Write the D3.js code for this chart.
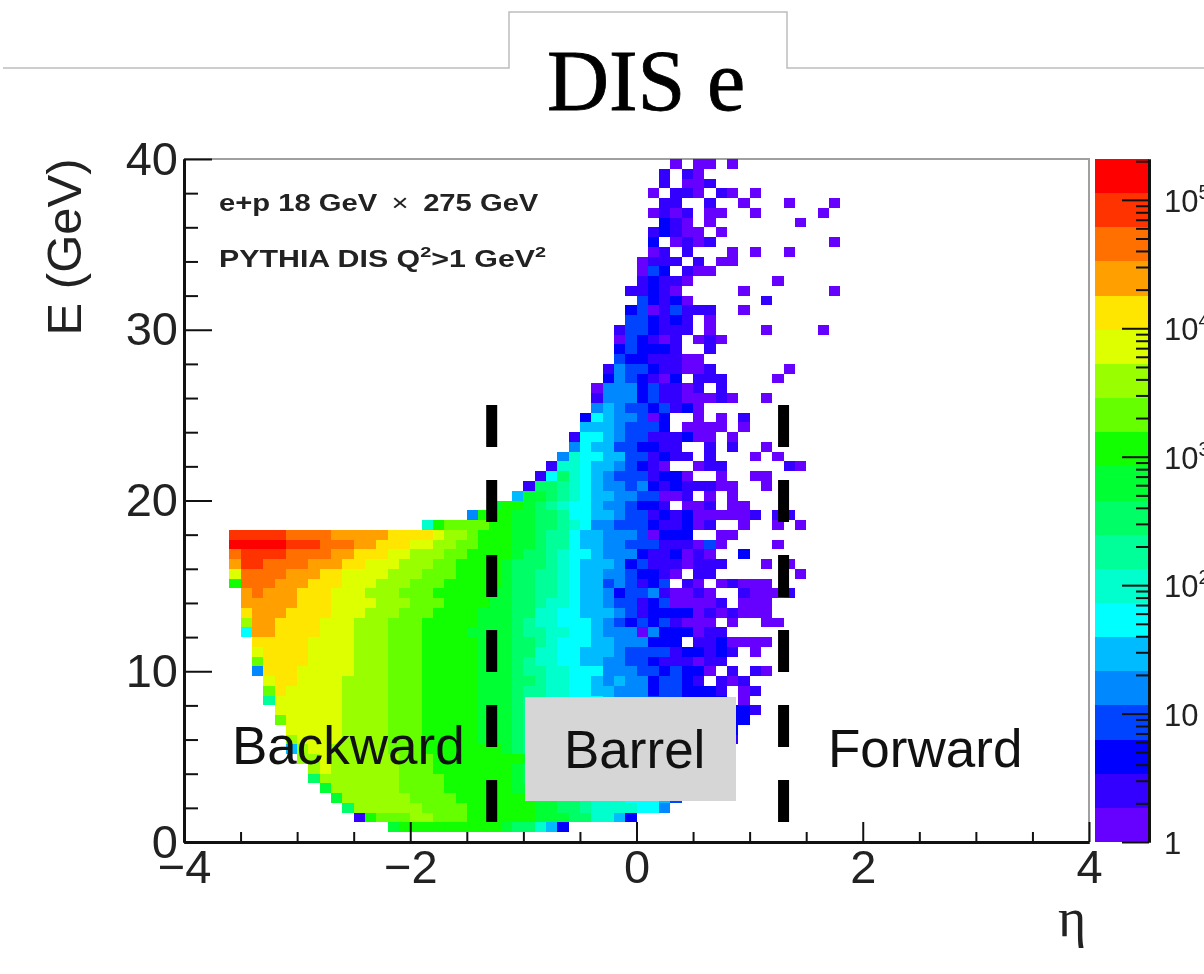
<!DOCTYPE html>
<html>
<head>
<meta charset="utf-8">
<title>DIS e</title>
<script src="https://cdn.jsdelivr.net/npm/d3@7"></script>
<style>
  html, body { margin: 0; padding: 0; background: #fff; overflow: hidden; }
  svg { display: block; font-family: "Liberation Sans", Arial, sans-serif; filter: blur(0.5px); }
</style>
</head>
<body>
<div id="chart"></div>
<script>
// Colour band of every filled bin.
// binRows goes from the top row (E = 39.4) down to the second row (E = 0.6).
// binStart is the eta column (0 = -4.0, 1 = -3.9 ...) of the first character in the row.
// One character per bin: 0-9 then a-j are the 20 bands of the colour bar, "." is empty.
var binStart = [
    43, 42, 42, 41, 42, 41, 42, 41, 41, 41, 40, 40, 40, 39, 40, 39, 39, 38,
    38, 38, 38, 37, 37, 36, 36, 36, 35, 35, 34, 34, 33, 32, 31, 30, 29, 27,
    25, 21, 4, 4, 4, 4, 4, 4, 5, 5, 5, 5, 5, 6, 6, 6, 6, 7, 7, 7,
    8, 8, 9, 9, 9, 10, 11, 11, 12, 13, 14, 15, 18
];
var binRows = [
    "0.00.0",
    "1.10",
    "1.001",
    "0.110.10.0",
    "11..1..0...0...0",
    "0101.00..0.....0",
    "210.0.......0",
    "12100.0",
    "2.0101..........0",
    "01.1...0.0..0",
    "0111.1.00",
    "032.100",
    "12110.......0",
    "11210.....0.......0",
    "32120......1",
    "23013111..0",
    "332121.0",
    "1332111.0....0....0",
    "032101.010",
    "232221..1",
    "32211100",
    "1433211001......0",
    "2432102.111....0",
    "0444231101.1",
    "1444231100010..0",
    "4543323120",
    "26544302..0.0.1",
    "55543332.0000.0",
    "1665433111200.0",
    "4655332211..1.1..0",
    "476655331211.1...0.0",
    "17765543210..011.....10",
    "16976543331220..0..00",
    "1998765443421211100..0",
    "5aa9876554433001.0.0",
    "abba987665443221.001.00",
    "4bbbaa99866554331212000001.11",
    "7bccccbbaa9987644333211201..0..0.0",
    "iiiiihhhhgggggffffeddcbbbaa98865544430222..00",
    "jjjjjiiihhhggfffeeddccbbbaa98865544333111030....0",
    "hiiiihhhhggfffeedddccbbbba99876654442112010..2",
    "giihhhhgggffeeedddccbbbba9998765554231110111...0.0",
    "ehhhhgggffeeeedddcccbbbba998876554432210.11.......0",
    "bhhhgggfffeeedddcccbbbbba99887655343123.10.01000",
    "ghgggfffeeedddcccbbbbbaa998876554233410010..10001",
    "gggggfffeeeedddcccbbbbaa9987765543312300001.000",
    "fgggffffeeedddcccbbbbaaa99776655543122220101000",
    "dggffffeeedddcccbbbbbaaa987766654323231000.0..00",
    "6ggffffeeedddcccbbbbaaaa9887766544404222011",
    "fffffeeeedddcccbbbbbaaa998766655444222.1120000",
    "effffeeeedddcccbbbbbaaa99776655543333122121.0",
    "cffffeeeedddcccbbbbbaaa9877665544332111011",
    "4fffeeeeedddcccbbbbbaaa988776664443323220.1.10",
    "effeeeeddddcccbbbbbaaa99877665454423321.101",
    "cfeeeeeddddcccbbbbbaaa9887766554442332221.01",
    "8eeeeeeddddcccbbbbbaaa9887766654443332222.0",
    "eeeeeeddddcccbbbbbaaa98.................221",
    "ceeeeeddddcccbbbbbaaa98.................22",
    "eeeeeddddcccbbbbbaaa98.................2",
    "deeeeddddcccbbbbbaaa98.................1",
    "5deedddddcccbbbbbbba98",
    "ddeddddddcccbbbbbbbba9",
    "deddddddcccbbbbbbba9",
    "9dddddddccccbbbbbba9",
    "addddddccccbbbbbbaa",
    "addddddccccbbbbbbbaa99877766653",
    "9ddddddccccbbbbbbaa9987777664",
    "1bcccddcccbbbbbbaaa997752",
    "abbbbbbbbba99752"
];

// Colour bar bands, bottom to top
var bandColors = [
    "#6600ff", "#3300ff", "#0000ff", "#0044ff", "#0088ff", "#00bbff", "#00ffff",
    "#00ffcc", "#00ff99", "#00ff66", "#00ff33", "#11ff00", "#66ff00", "#99ff00",
    "#ddff00", "#ffe600", "#ffa000", "#ff7000", "#ff3300", "#ff0000"
];
var bandChars = "0123456789abcdefghij";

var xMajor = [-4, -2, 0, 2, 4];
var xMinor = [-3.5, -3, -2.5, -1.5, -1, -0.5, 0.5, 1, 1.5, 2.5, 3, 3.5];
var yMajor = [0, 10, 20, 30, 40];
var yMinor = [2, 4, 6, 8, 12, 14, 16, 18, 22, 24, 26, 28, 32, 34, 36, 38];
var zMax = 208000;
var zMajor = [1, 10, 100, 1000, 10000, 100000];
var zMinor = [2, 3, 4, 5, 6, 7, 8, 9, 20, 30, 40, 50, 60, 70, 80, 90,
    200, 300, 400, 500, 600, 700, 800, 900, 2000, 3000, 4000, 5000, 6000, 7000, 8000, 9000,
    20000, 30000, 40000, 50000, 60000, 70000, 80000, 90000, 200000];
var zLabels = ["1", "10", "10", "10", "10", "10"];
var zExponents = ["", "", "2", "3", "4", "5"];

var regionEdges = [-1.28, 1.3];
var regionSpan = [1.17, 25.6];

var width = 1204;
var height = 974;

var svg = d3.select("#chart").append("svg")
    .attr("width", width)
    .attr("height", height);

var x = d3.scaleLinear().domain([-4, 4]).range([184, 1089]);
var y = d3.scaleLinear().domain([0, 40]).range([842, 159]);
var zPos = d3.scaleLog().domain([1, zMax]).range([842, 159]);
var bandPos = d3.scaleLinear().domain([0, bandColors.length]).range([842, 159]);
var color = d3.scaleOrdinal().domain(bandChars.split("")).range(bandColors);

var etaBin = 0.1;
var energyBin = 40 / 70;
var topRow = 69;

// Turn the row strings into one record per filled bin
var bins = [];
binRows.forEach(function(row, i) {
    row.split("").forEach(function(ch, j) {
        if (ch !== ".") {
            bins.push({ col: binStart[i] + j, row: topRow - i, band: ch });
        }
    });
});

// Tab outline behind the title
svg.append("path")
    .attr("d", "M3,68H509V12H787V68H1204")
    .attr("fill", "none")
    .attr("stroke", "#bdbdbd")
    .attr("stroke-width", 1.5);

svg.append("text")
    .attr("x", 646)
    .attr("y", 110)
    .attr("text-anchor", "middle")
    .attr("stroke", "#000")
    .attr("stroke-width", 0.8)
    .style("font-family", "'Liberation Serif', serif")
    .style("font-size", "86px")
    .text("DIS e");

// Plot frame on the top and right
svg.append("path")
    .attr("d", "M" + x(-4) + "," + y(40) + "H" + x(4) + "V" + y(0))
    .attr("fill", "none")
    .attr("stroke", "#a0a0a0")
    .attr("stroke-width", 2);

// Histogram bins
svg.append("g").selectAll("rect")
    .data(bins)
    .enter().append("rect")
    .attr("x", function(d) { return x(-4 + d.col * etaBin); })
    .attr("y", function(d) { return y((d.row + 1) * energyBin); })
    .attr("width", x(etaBin) - x(0))
    .attr("height", y(0) - y(energyBin))
    .attr("fill", function(d) { return color(d.band); })
    .attr("shape-rendering", "crispEdges");

// Axes
function styleAxis(g, lineWidth) {
    g.select(".domain").attr("stroke", "#111").attr("stroke-width", 3);
    g.selectAll(".tick line").attr("stroke", "#111").attr("stroke-width", lineWidth);
    g.selectAll("text").attr("fill", "#222").style("font-family", "'Liberation Sans', Arial, sans-serif");
}

svg.append("g")
    .attr("transform", "translate(0," + y(0) + ")")
    .call(d3.axisBottom(x).tickValues(xMinor).tickSize(-10).tickSizeOuter(0).tickFormat(""))
    .call(styleAxis, 2);

svg.append("g")
    .attr("transform", "translate(0," + y(0) + ")")
    .call(d3.axisBottom(x).tickValues(xMajor).tickSize(-20).tickSizeOuter(0).tickPadding(8))
    .call(styleAxis, 2)
    .selectAll("text").style("font-size", "47px");

svg.append("g")
    .attr("transform", "translate(" + x(-4) + ",0)")
    .call(d3.axisLeft(y).tickValues(yMinor).tickSize(-14).tickSizeOuter(0).tickFormat(""))
    .call(styleAxis, 2);

svg.append("g")
    .attr("transform", "translate(" + x(-4) + ",0)")
    .call(d3.axisLeft(y).tickValues(yMajor).tickSize(-28).tickSizeOuter(0).tickPadding(6))
    .call(styleAxis, 2)
    .selectAll("text").style("font-size", "47px");

svg.append("text")
    .attr("transform", "translate(81,247) rotate(-90)")
    .attr("text-anchor", "middle")
    .attr("fill", "#222")
    .style("font-size", "49px")
    .text("E (GeV)");

svg.append("text")
    .attr("x", 1072)
    .attr("y", 936)
    .attr("text-anchor", "middle")
    .attr("fill", "#222")
    .style("font-family", "'Liberation Serif', serif")
    .style("font-size", "54px")
    .text("η");

// Dashed detector region edges
svg.append("g").selectAll("line")
    .data(regionEdges)
    .enter().append("line")
    .attr("x1", function(d) { return x(d); })
    .attr("x2", function(d) { return x(d); })
    .attr("y1", y(regionSpan[1]))
    .attr("y2", y(regionSpan[0]))
    .attr("stroke", "#000")
    .attr("stroke-width", 11)
    .attr("stroke-dasharray", "42 33");

// Region labels
svg.append("rect")
    .attr("x", 525)
    .attr("y", 697)
    .attr("width", 211)
    .attr("height", 104)
    .attr("fill", "#d6d6d6");

var regionLabels = ["Backward", "Barrel", "Forward"];
var regionLabelX = [232, 564, 828];
var regionLabelY = [764, 768, 767];
svg.append("g").selectAll("text")
    .data(regionLabels)
    .enter().append("text")
    .attr("x", function(d, i) { return regionLabelX[i]; })
    .attr("y", function(d, i) { return regionLabelY[i]; })
    .attr("fill", "#111")
    .style("font-size", "53px")
    .text(function(d) { return d; });

// Beam and generator notes, wider than the plain font in the picture
var note1 = svg.append("text")
    .attr("transform", "translate(219,211) scale(1.27,1)")
    .attr("fill", "#222")
    .style("font-size", "23px")
    .style("font-weight", "bold");
note1.append("tspan").text("e+p 18 GeV ");
note1.append("tspan").attr("dx", 5).style("font-weight", "normal").text("×");
note1.append("tspan").attr("dx", 5).text(" 275 GeV");

var note2 = svg.append("text")
    .attr("transform", "translate(219,267) scale(1.32,1)")
    .attr("fill", "#222")
    .style("font-size", "23px")
    .style("font-weight", "bold");
note2.append("tspan").text("PYTHIA DIS Q");
note2.append("tspan").attr("dy", -10).style("font-size", "15px").text("2");
note2.append("tspan").attr("dy", 10).text(">1 GeV");
note2.append("tspan").attr("dy", -10).style("font-size", "15px").text("2");

// Colour bar
var barLeft = 1095;
var barRight = 1149;

svg.append("g").selectAll("rect")
    .data(bandColors)
    .enter().append("rect")
    .attr("x", barLeft)
    .attr("y", function(d, i) { return bandPos(i + 1); })
    .attr("width", barRight - barLeft)
    .attr("height", bandPos(0) - bandPos(1))
    .attr("fill", function(d) { return d; })
    .attr("shape-rendering", "crispEdges");

svg.append("g")
    .attr("transform", "translate(" + barRight + ",0)")
    .call(d3.axisRight(zPos).tickValues(zMinor).tickSize(-13).tickSizeOuter(0).tickFormat(""))
    .call(styleAxis, 2);

svg.append("g")
    .attr("transform", "translate(" + barRight + ",0)")
    .call(d3.axisRight(zPos).tickValues(zMajor).tickSize(-27).tickSizeOuter(0).tickFormat(""))
    .call(styleAxis, 2);

var zText = svg.append("g").selectAll("text")
    .data(zMajor)
    .enter().append("text")
    .attr("x", 1164)
    .attr("y", function(d) { return zPos(d) + 12; })
    .attr("fill", "#222")
    .style("font-size", "31px");
zText.append("tspan").text(function(d, i) { return zLabels[i]; });
zText.append("tspan")
    .attr("dy", -13)
    .style("font-size", "20px")
    .text(function(d, i) { return zExponents[i]; });
</script>
</body>
</html>
